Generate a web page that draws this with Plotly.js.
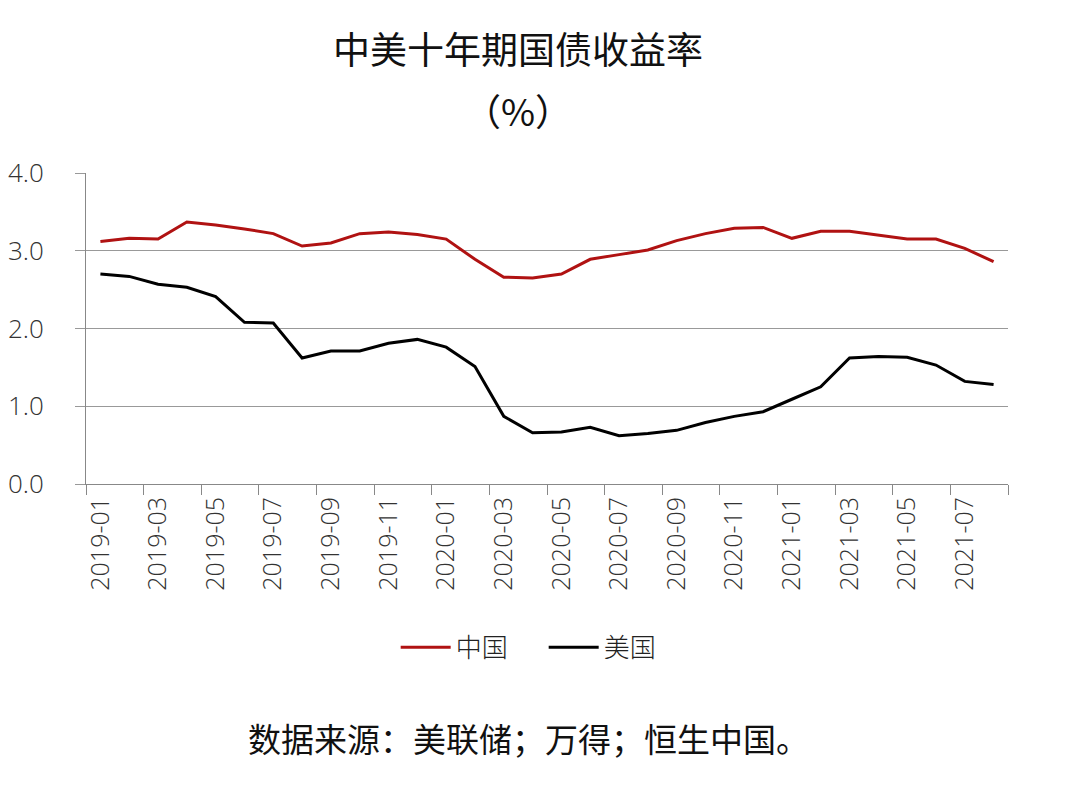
<!DOCTYPE html>
<html>
<head>
<meta charset="utf-8">
<script src="https://cdn.plot.ly/plotly-3.0.1.min.js"></script>
<style>html,body{margin:0;padding:0;background:#fff;}#chart{width:1070px;height:785px;}</style>
</head>
<body>
<div id="chart"></div>
<script>
const months = ["2019-01","2019-02","2019-03","2019-04","2019-05","2019-06","2019-07","2019-08","2019-09","2019-10","2019-11","2019-12",
"2020-01","2020-02","2020-03","2020-04","2020-05","2020-06","2020-07","2020-08","2020-09","2020-10","2020-11","2020-12",
"2021-01","2021-02","2021-03","2021-04","2021-05","2021-06","2021-07","2021-08"];
const china = [3.12,3.16,3.15,3.37,3.33,3.28,3.22,3.06,3.10,3.22,3.24,3.21,3.15,2.89,2.66,2.65,
2.70,2.89,2.95,3.01,3.13,3.22,3.29,3.30,3.16,3.25,3.25,3.20,3.15,3.15,3.03,2.86];
const usa = [2.70,2.67,2.57,2.53,2.41,2.08,2.07,1.62,1.71,1.71,1.81,1.86,1.76,1.51,0.87,0.66,
0.67,0.73,0.62,0.65,0.69,0.79,0.87,0.93,1.09,1.25,1.62,1.64,1.63,1.53,1.32,1.28];
const yTicks = [0,1,2,3,4];
const yTickText = ["0.0","1.0","2.0","3.0","4.0"];
const FONT = '"Noto Sans CJK SC", "Noto Sans", sans-serif';
const NUMFONT = '"Open Sans", "Noto Sans CJK SC", sans-serif';

const traces = [
  {x: months, y: china, name: "中国", type: "scatter", mode: "lines", line: {color: "#B01212", width: 3}},
  {x: months, y: usa, name: "美国", type: "scatter", mode: "lines", line: {color: "#000000", width: 3}}
];
const layout = {
  width: 1070, height: 785,
  margin: {l: 86, r: 62, t: 173, b: 301},
  paper_bgcolor: "#fff", plot_bgcolor: "#fff",
  font: {family: FONT, color: "#333"},
  xaxis: {type: "category", range: [-0.5, 31.5], tickmode: "linear", dtick: 2, tick0: 0, tickangle: -90,
          tickson: "boundaries", ticks: "outside", ticklen: 10, tickcolor: "#888", tickwidth: 1,
          showline: true, linecolor: "#888", linewidth: 1, showgrid: false, ticklabelstandoff: 2,
          tickfont: {family: NUMFONT, size: 25, color: "#333", weight: 300}, automargin: false},
  yaxis: {range: [0, 4], tickmode: "array", tickvals: yTicks, ticktext: yTickText,
          showgrid: true, gridcolor: "#999", gridwidth: 1, showline: true, linecolor: "#888",
          zeroline: false, ticks: "outside", ticklen: 10, tickcolor: "#999", ticklabelstandoff: 26,
          tickfont: {family: NUMFONT, size: 26, color: "#333", weight: 300}, automargin: false},
  showlegend: true,
  legend: {orientation: "h", x: 0.4964, xanchor: "center", y: -0.45, yanchor: "top",
           font: {family: FONT, size: 26, color: "#222", weight: 300}, itemwidth: 50,
           entrywidth: 83, traceorder: "normal"},
  annotations: [
    {text: "中美十年期国债收益率", xref: "paper", yref: "paper", x: 0.469, xanchor: "center",
     y: 1 + (173 - 48) / 311, yanchor: "middle", showarrow: false, font: {family: FONT, size: 37, color: "#111"}},
    {text: "（%）", xref: "paper", yref: "paper", x: 0.469, xanchor: "center",
     y: 1 + (173 - 110) / 311, yanchor: "middle", showarrow: false, font: {family: FONT, size: 37, color: "#111"}},
    {text: "数据来源：美联储；万得；恒生中国。", xref: "paper", yref: "paper", x: 0.47965, xanchor: "center",
     y: -(738 - 484) / 311, yanchor: "middle", showarrow: false, font: {family: FONT, size: 33, color: "#111"}}
  ]
};
Plotly.newPlot("chart", traces, layout, {displayModeBar: false, staticPlot: true});
</script>
</body>
</html>
